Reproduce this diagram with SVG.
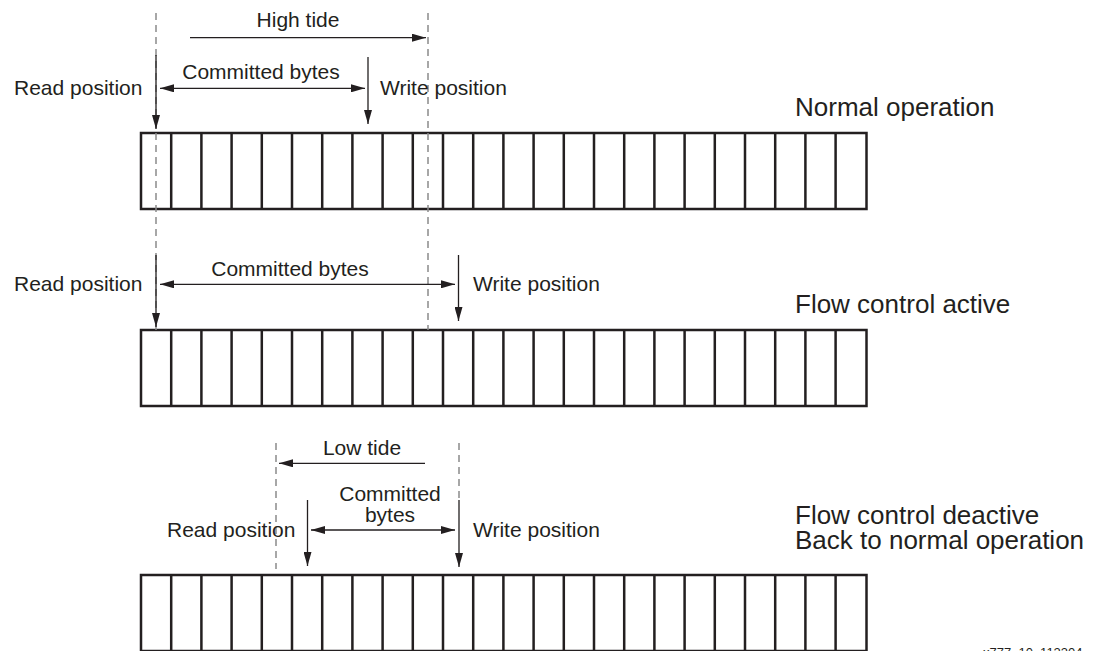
<svg xmlns="http://www.w3.org/2000/svg" width="1105" height="651" viewBox="0 0 1105 651">
  <style>
    .lbl { font-family: "Liberation Sans", Arial, sans-serif; font-size: 21px; fill: #231f20; }
    .title { font-family: "Liberation Sans", Arial, sans-serif; font-size: 26px; fill: #231f20; }
    .tag { font-family: "Liberation Sans", Arial, sans-serif; font-size: 13px; fill: #231f20; }
    .buf { fill: #ffffff; stroke: #231f20; stroke-width: 2.5; }
    .div { stroke: #231f20; stroke-width: 2.5; }
    .arr { stroke: #231f20; stroke-width: 1.3; fill: none; }
    .dash { stroke: #8a8a8a; stroke-width: 1.5; stroke-dasharray: 7 5; fill: none; }
  </style>
  <defs>
    <marker id="head" viewBox="0 0 14 8" refX="14" refY="4" markerWidth="14" markerHeight="8" markerUnits="userSpaceOnUse" orient="auto-start-reverse">
      <path d="M0,0 L14,4 L0,8 Z" fill="#231f20"/>
    </marker>
    <!-- one buffer strip: 24 byte cells -->
    <g id="cells">
      <rect class="buf" x="141" y="0" width="725.5" height="76"/>
      <path class="div" d="M171.2,0V76M201.4,0V76M231.6,0V76M261.8,0V76M292,0V76M322.2,0V76M352.4,0V76M382.6,0V76M412.8,0V76M443,0V76M473.2,0V76M503.4,0V76M533.6,0V76M563.8,0V76M594,0V76M624.2,0V76M654.4,0V76M684.6,0V76M714.8,0V76M745,0V76M775.2,0V76M805.4,0V76M835.6,0V76"/>
    </g>
  </defs>

  <rect width="1105" height="651" fill="#ffffff"/>

  <!-- buffers -->
  <g id="buffer-normal"><use href="#cells" y="133"/></g>
  <g id="buffer-flow-active"><use href="#cells" y="330"/></g>
  <g id="buffer-flow-deactive"><use href="#cells" y="575"/></g>

  <!-- dashed reference lines -->
  <g id="guides">
    <line class="dash" x1="156" y1="13" x2="156" y2="330"/>
    <line class="dash" x1="428" y1="13" x2="428" y2="330"/>
    <line class="dash" x1="276" y1="443" x2="276" y2="569"/>
    <line class="dash" x1="459" y1="443" x2="459" y2="500"/>
  </g>

  <!-- connectors -->
  <g id="connectors">
    <!-- normal operation -->
    <line class="arr" x1="190" y1="37.7" x2="426" y2="37.7" marker-end="url(#head)"/>
    <line class="arr" x1="156" y1="55" x2="156" y2="129" marker-end="url(#head)"/>
    <line class="arr" x1="368" y1="57" x2="368" y2="124" marker-end="url(#head)"/>
    <line class="arr" x1="160" y1="88.3" x2="365" y2="88.3" marker-start="url(#head)" marker-end="url(#head)"/>
    <!-- flow control active -->
    <line class="arr" x1="156" y1="255" x2="156" y2="327" marker-end="url(#head)"/>
    <line class="arr" x1="458.5" y1="255" x2="458.5" y2="321" marker-end="url(#head)"/>
    <line class="arr" x1="160" y1="284.3" x2="455" y2="284.3" marker-start="url(#head)" marker-end="url(#head)"/>
    <!-- flow control deactive -->
    <line class="arr" x1="425" y1="463.3" x2="279" y2="463.3" marker-end="url(#head)"/>
    <line class="arr" x1="307.5" y1="500" x2="307.5" y2="566" marker-end="url(#head)"/>
    <line class="arr" x1="459" y1="500" x2="459" y2="567" marker-end="url(#head)"/>
    <line class="arr" x1="311" y1="530" x2="455" y2="530" marker-start="url(#head)" marker-end="url(#head)"/>
  </g>

  <!-- labels -->
  <g id="labels-normal">
    <text class="lbl" x="298" y="26.7" text-anchor="middle">High tide</text>
    <text class="lbl" x="14" y="95">Read position</text>
    <text class="lbl" x="261" y="79" text-anchor="middle">Committed bytes</text>
    <text class="lbl" x="380" y="95">Write position</text>
    <text class="title" x="795" y="116">Normal operation</text>
  </g>
  <g id="labels-flow-active">
    <text class="lbl" x="14" y="290.7">Read position</text>
    <text class="lbl" x="290" y="275.5" text-anchor="middle">Committed bytes</text>
    <text class="lbl" x="473" y="290.7">Write position</text>
    <text class="title" x="795" y="313">Flow control active</text>
  </g>
  <g id="labels-flow-deactive">
    <text class="lbl" x="362" y="455" text-anchor="middle">Low tide</text>
    <text class="lbl" x="390" y="500.7" text-anchor="middle">Committed</text>
    <text class="lbl" x="390" y="521.7" text-anchor="middle">bytes</text>
    <text class="lbl" x="167" y="536.7">Read position</text>
    <text class="lbl" x="473" y="536.7">Write position</text>
    <text class="title" x="795" y="524">Flow control deactive</text>
    <text class="title" x="795" y="549">Back to normal operation</text>
  </g>
  <text class="tag" x="983" y="656.6">x777_10_112304</text>
</svg>
